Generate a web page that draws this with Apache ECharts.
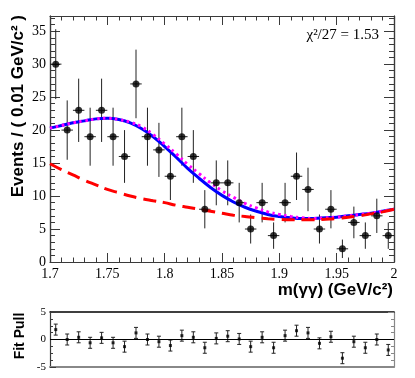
<!DOCTYPE html>
<html><head><meta charset="utf-8">
<script src="https://cdn.jsdelivr.net/npm/echarts@6/dist/echarts.min.js"></script>
<style>html,body{margin:0;padding:0;background:#fff}#c{width:415px;height:378px}</style>
</head><body><div id="c"></div>
<script>
// ---- data ----
const binCenters = [1.705,1.715,1.725,1.735,1.745,1.755,1.765,1.775,1.785,1.795,1.805,1.815,1.825,1.835,1.845,1.855,1.865,1.875,1.885,1.895,1.905,1.915,1.925,1.935,1.945,1.955,1.965,1.975,1.985,1.995];
const binHalfWidth = 0.005;
const counts = [30,20,23,19,23,19,16,27,19,17,13,19,16,8,12,12,9,5,9,4,9,13,11,5,8,2,6,4,7,4];
const countErrors = [5.3,4.5,4.8,4.4,4.8,4.4,4.0,5.2,4.4,4.1,3.6,4.4,4.0,2.9,3.4,3.4,3.0,2.2,3.0,2.0,3.0,3.6,3.3,2.2,2.9,1.4,2.4,2.0,2.6,2.0];
const pulls = [1.8,0.0,0.4,-0.6,0.3,-0.6,-1.3,1.2,0.0,-0.4,-1.1,0.7,0.4,-1.5,0.2,0.6,0.1,-1.3,0.4,-1.5,0.7,1.6,1.2,-0.7,0.5,-3.4,-0.4,-1.5,0.0,-1.9];
const pullErrors = [1,1,1,1,1,1,1,1,1,1,1,1,1,1,1,1,1,1,1,1,1,1,1,1,1,1,1,1,1,1];
const curveX = [1.70,1.71,1.72,1.73,1.74,1.75,1.76,1.77,1.78,1.79,1.80,1.81,1.82,1.83,1.84,1.85,1.86,1.87,1.88,1.89,1.90,1.91,1.92,1.93,1.94,1.95,1.96,1.97,1.98,1.99,2.00];
const totalFit = [20.3,20.7,21.1,21.4,21.7,21.8,21.6,21.1,20.2,19.0,17.5,15.9,14.2,12.7,11.3,10.1,9.1,8.3,7.7,7.2,6.9,6.7,6.6,6.6,6.7,6.8,7.0,7.2,7.4,7.7,8.0];
const altFit   = [20.3,20.7,21.1,21.4,21.7,21.8,21.6,21.2,20.5,19.3,17.9,16.4,14.8,13.4,12.0,10.8,9.8,8.9,8.2,7.6,7.2,6.9,6.7,6.6,6.7,6.8,7.0,7.2,7.4,7.7,8.0];
const background = [14.9,14.0,13.2,12.4,11.7,11.0,10.5,10.0,9.6,9.3,9.0,8.6,8.3,8.0,7.7,7.4,7.1,6.9,6.7,6.55,6.45,6.4,6.4,6.4,6.5,6.6,6.8,7.0,7.3,7.6,8.0];
const yMajorTicks = [0,5,10,15,20,25,30,35];
const yMinorTicks = [1,2,3,4,6,7,8,9,11,12,13,14,16,17,18,19,21,22,23,24,26,27,28,29,31,32,33,34,36,37];
const chiText = 'χ²/27 = 1.53';

// ---- chart ----
const chart = echarts.init(document.getElementById('c'), null, {renderer:'canvas'});
const frame = '#3a3a3a';
const serif = '"Liberation Serif", "Times New Roman", serif';
const sans = '"Liberation Sans", Arial, sans-serif';

function xAx(grid, pos, opts){
  return Object.assign({
    type:'value', gridIndex:grid, position:pos, min:1.7, max:2.0, interval:0.05,
    axisLine:{show:true, onZero:false, lineStyle:{color:frame, width:1.2}},
    axisTick:{show:true, inside:true, length:9, lineStyle:{color:frame}},
    minorTick:{show:true, splitNumber:5, length:4.5, lineStyle:{color:frame}},
    axisLabel:{show:false}, splitLine:{show:false}
  }, opts||{});
}
function yAx(pos, ticks, len, labels){
  return {
    type:'value', gridIndex:0, position:pos, min:0, max:37.3,
    axisLine:{show:true, onZero:false, lineStyle:{color:frame, width:1.2}},
    axisTick:{show:true, inside:true, length:len, customValues:ticks, lineStyle:{color:frame}},
    axisLabel:{show:labels, customValues:ticks, margin:4, color:'#000', fontFamily:serif, fontSize:14},
    splitLine:{show:false}
  };
}

const errBarRender = function(params, api){
  const x = api.value(0), y = api.value(1), e = api.value(2);
  const t = api.coord([x, y+e]), b = api.coord([x, y-e]);
  const l = api.coord([x-binHalfWidth, y]), r = api.coord([x+binHalfWidth, y]);
  const st = {stroke:'#222', lineWidth:1};
  return {type:'group', children:[
    {type:'line', shape:{x1:t[0], y1:t[1], x2:b[0], y2:b[1]}, style:st},
    {type:'line', shape:{x1:l[0], y1:l[1], x2:r[0], y2:r[1]}, style:st}
  ]};
};
const pullErrRender = function(params, api){
  const x = api.value(0), y = api.value(1), e = api.value(2);
  const t = api.coord([x, y+e]), b = api.coord([x, y-e]);
  const st = {stroke:'#222', lineWidth:1};
  return {type:'group', children:[
    {type:'line', shape:{x1:t[0], y1:t[1], x2:b[0], y2:b[1]}, style:st},
    {type:'line', shape:{x1:t[0]-2, y1:t[1], x2:t[0]+2, y2:t[1]}, style:st},
    {type:'line', shape:{x1:b[0]-2, y1:b[1], x2:b[0]+2, y2:b[1]}, style:st}
  ]};
};

const option = {
  animation:false,
  backgroundColor:'#fff',
  grid:[
    {left:50, top:16, width:344, height:246},
    {left:50, top:312, width:344, height:55}
  ],
  xAxis:[
    xAx(0,'bottom',{axisLabel:{show:true, margin:5, color:'#000', fontFamily:serif, fontSize:14}}),
    xAx(0,'top'),
    xAx(1,'bottom',{axisLine:{show:true,onZero:false,lineStyle:{color:'#888',width:2}}, axisTick:{show:false}, minorTick:{show:false}}),
    xAx(1,'top',{axisLine:{show:true,onZero:false,lineStyle:{color:'#000',width:1.5}}, axisTick:{show:false}, minorTick:{show:false}})
  ],
  yAxis:[
    yAx('left', yMajorTicks, 10, true),
    yAx('left', yMinorTicks, 5, false),
    yAx('right', yMajorTicks, 10, false),
    yAx('right', yMinorTicks, 5, false),
    {type:'value', gridIndex:1, position:'left', min:-5, max:5, interval:5,
     axisLine:{show:true, onZero:false, lineStyle:{color:frame, width:1.2}},
     axisTick:{show:true, inside:true, length:6, lineStyle:{color:frame}},
     minorTick:{show:true, splitNumber:4, length:3, lineStyle:{color:frame}},
     axisLabel:{show:true, margin:4, color:'#000', fontFamily:serif, fontSize:11},
     splitLine:{show:false}},
    {type:'value', gridIndex:1, position:'right', min:-5, max:5, interval:5,
     axisLine:{show:true, onZero:false, lineStyle:{color:'#888', width:1.2}},
     axisTick:{show:true, inside:true, length:6, lineStyle:{color:'#888'}},
     minorTick:{show:true, splitNumber:4, length:3, lineStyle:{color:'#888'}},
     axisLabel:{show:false}, splitLine:{show:false}}
  ],
  series:[
    {type:'custom', xAxisIndex:0, yAxisIndex:0, renderItem:errBarRender,
     data: binCenters.map((x,i)=>[x, counts[i], countErrors[i]]), z:2},
    {type:'line', xAxisIndex:0, yAxisIndex:0, showSymbol:false, smooth:0.4, z:3,
     lineStyle:{color:'#0000ff', width:3}, data: curveX.map((x,i)=>[x,totalFit[i]])},
    {type:'line', xAxisIndex:0, yAxisIndex:0, showSymbol:false, smooth:0.4, z:4,
     lineStyle:{color:'#ff00ff', width:3, type:[2.5,3.5]}, data: curveX.map((x,i)=>[x,altFit[i]])},
    {type:'line', xAxisIndex:0, yAxisIndex:0, showSymbol:false, smooth:0.4, z:5,
     lineStyle:{color:'#ff0000', width:3, type:[13,7]}, data: curveX.map((x,i)=>[x,background[i]])},
    {type:'scatter', xAxisIndex:0, yAxisIndex:0, symbol:'circle', symbolSize:7, z:6,
     itemStyle:{color:'#000'}, data: binCenters.map((x,i)=>[x, counts[i]])},
    {type:'custom', xAxisIndex:2, yAxisIndex:4, renderItem:pullErrRender, z:3,
     data: binCenters.map((x,i)=>[x, pulls[i], pullErrors[i]])},
    {type:'scatter', xAxisIndex:2, yAxisIndex:4, symbol:'rect', symbolSize:3, z:4,
     itemStyle:{color:'#000'}, data: binCenters.map((x,i)=>[x, pulls[i]]),
     markLine:{silent:true, symbol:'none', label:{show:false},
       lineStyle:{color:'#000', width:1, type:'solid'}, data:[{yAxis:0}]}}
  ],
  graphic:[
    {type:'text', x:18, y:15, rotation:Math.PI/2,
     style:{text:'Events / ( 0.01 GeV/c² )', font:'bold 17px '+sans, fill:'#000', textAlign:'right', textVerticalAlign:'middle'}},
    {type:'text', x:393, y:290,
     style:{text:'m(γγ) (GeV/c²)', font:'bold 17px '+sans, fill:'#000', textAlign:'right', textVerticalAlign:'middle'}},
    {type:'text', x:20, y:336, rotation:Math.PI/2,
     style:{text:'Fit Pull', font:'bold 14px '+sans, fill:'#000', textAlign:'center', textVerticalAlign:'middle'}},
    {type:'text', x:379, y:35,
     style:{text:chiText, font:'15px '+serif, fill:'#000', textAlign:'right', textVerticalAlign:'middle'}}
  ]
};
chart.setOption(option);
</script>
</body></html>
